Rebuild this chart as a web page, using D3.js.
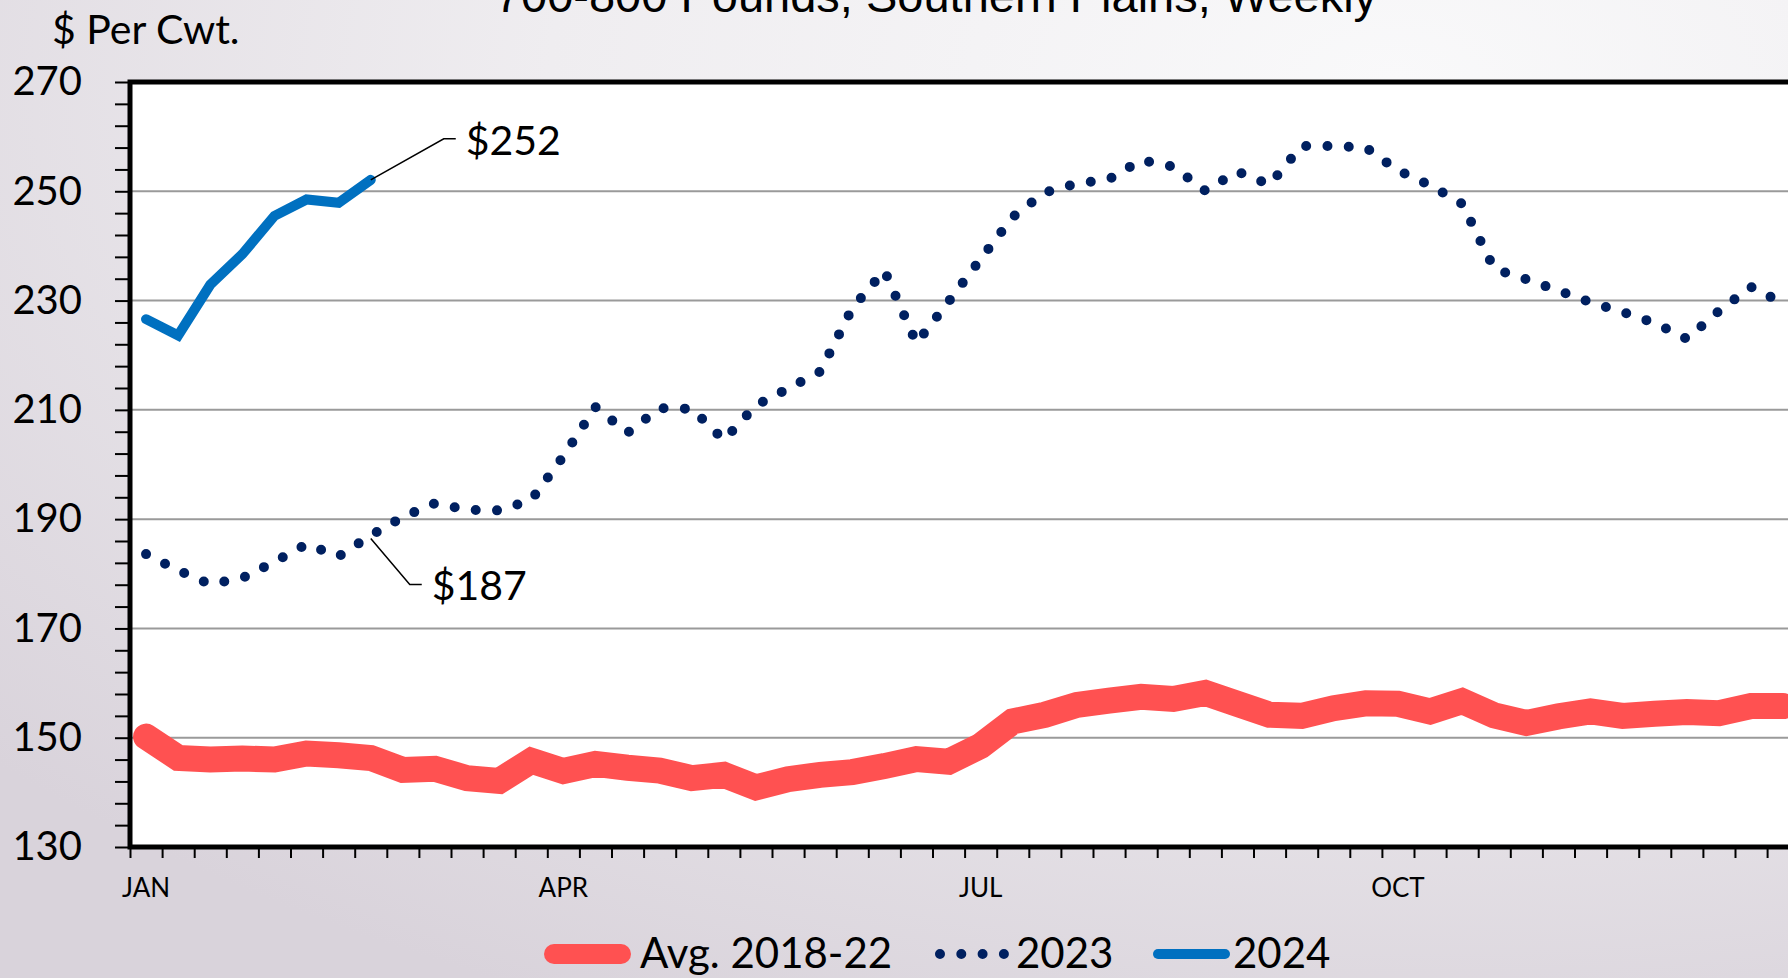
<!DOCTYPE html>
<html>
<head>
<meta charset="utf-8">
<script src="https://cdn.jsdelivr.net/npm/d3@7"></script>
<style>
  html, body { margin: 0; padding: 0; overflow: hidden; }
  svg { display: block; }
</style>
</head>
<body>
<script>
// weekly prices, $ per cwt
const weeks = d3.range(52);
const avg1822 = [150.2, 146.3, 146.0, 146.2, 146.0, 147.1, 146.8, 146.3, 144.1, 144.3,
  142.6, 142.1, 145.8, 143.9, 145.2, 144.5, 144.0, 142.6, 143.2, 140.9,
  142.4, 143.2, 143.7, 144.8, 146.1, 145.6, 148.5, 153.0, 154.2, 156.0,
  156.8, 157.5, 157.1, 158.2, 156.2, 154.2, 154.0, 155.4, 156.3, 156.2,
  154.8, 156.7, 154.1, 152.7, 153.9, 154.8, 154.0, 154.4, 154.7, 154.5,
  155.8, 155.8];
const y2023 = [183.6, 180.6, 178.1, 179.2, 182.2, 185.4, 183.2, 187.0, 190.4, 192.9,
  191.7, 191.6, 193.5, 201.5, 210.5, 205.8, 210.3, 210.2, 204.5, 210.8,
  213.9, 217.0, 228.6, 235.5, 222.2, 229.8, 237.6, 245.3, 249.8, 251.4,
  252.2, 255.7, 254.5, 250.1, 253.6, 251.2, 258.3, 258.3, 258.0, 253.8,
  251.1, 247.7, 235.8, 233.9, 231.8, 229.7, 227.9, 225.9, 223.0, 228.1,
  232.5, 229.5];
const y2024 = [226.6, 223.6, 232.9, 238.5, 245.5, 248.5, 247.9, 252.1];

const monthLabels = ["JAN", "APR", "JUL", "OCT"];
const monthWeeks = [0, 13, 26, 39];
const yMajor = [130, 150, 170, 190, 210, 230, 250, 270];
const gridValues = [150, 170, 190, 210, 230, 250];
const seriesNames = ["Avg. 2018-22", "2023", "2024"];

const width = 1788, height = 978;
const margin = { top: 82, left: 130, bottom: 131 };
const step = 32.1;
const plotRight = margin.left + step * weeks.length;
const plotBottom = height - margin.bottom;

const font = "Lato, 'Open Sans', sans-serif";

const svg = d3.select("body").append("svg")
  .attr("width", width)
  .attr("height", height);

// background
const defs = svg.append("defs");
const bg = defs.append("radialGradient")
  .attr("id", "bg")
  .attr("cx", "78%").attr("cy", "8%").attr("r", "105%");
bg.append("stop").attr("offset", "0%").attr("stop-color", "#f9f9fa");
bg.append("stop").attr("offset", "45%").attr("stop-color", "#efedf0");
bg.append("stop").attr("offset", "100%").attr("stop-color", "#d9d3db");

svg.append("rect")
  .attr("width", width)
  .attr("height", height)
  .attr("fill", "url(#bg)");

// scales
const x = d3.scaleBand()
  .domain(weeks)
  .range([margin.left, plotRight]);
const xEdge = d3.scaleLinear()
  .domain([0, weeks.length])
  .range([margin.left, plotRight]);
const y = d3.scaleLinear()
  .domain([130, 270])
  .range([plotBottom, margin.top]);
const cx = i => x(i) + x.bandwidth() / 2;

// plot area
svg.append("rect")
  .attr("x", margin.left)
  .attr("y", margin.top)
  .attr("width", plotRight - margin.left)
  .attr("height", plotBottom - margin.top)
  .attr("fill", "#ffffff");

// title (cut off at top, as in the source slide)
svg.append("text")
  .attr("x", 936)
  .attr("y", 12)
  .attr("text-anchor", "middle")
  .attr("font-family", "'Liberation Sans', Arial, sans-serif")
  .attr("font-size", 47)
  .attr("fill", "#000")
  .text("700-800 Pounds, Southern Plains, Weekly");

// gridlines
svg.append("g")
  .selectAll("line")
  .data(gridValues)
  .join("line")
    .attr("x1", margin.left)
    .attr("x2", plotRight)
    .attr("y1", d => y(d))
    .attr("y2", d => y(d))
    .attr("stroke", "#9a9a9a")
    .attr("stroke-width", 2);

// y axis ticks + labels
const yAxis = svg.append("g")
  .attr("transform", `translate(${margin.left},0)`)
  .call(d3.axisLeft(y)
    .tickValues(d3.range(130, 271, 4))
    .tickSize(15)
    .tickPadding(33)
    .tickFormat(d => yMajor.includes(d) ? d : ""));
yAxis.select(".domain").remove();
yAxis.selectAll(".tick line").attr("stroke", "#000").attr("stroke-width", 2);
yAxis.selectAll(".tick text")
  .attr("font-family", font)
  .attr("font-size", 40)
  .attr("fill", "#000");

svg.append("text")
  .attr("x", 52)
  .attr("y", 44)
  .attr("font-family", font)
  .attr("font-size", 41)
  .attr("fill", "#000")
  .text("$ Per Cwt.");

// x axis ticks
const xAxis = svg.append("g")
  .attr("transform", `translate(0,${plotBottom})`)
  .call(d3.axisBottom(xEdge)
    .tickValues(d3.range(0, weeks.length + 1))
    .tickSize(11)
    .tickFormat(""));
xAxis.select(".domain").remove();
xAxis.selectAll(".tick line").attr("stroke", "#000").attr("stroke-width", 2);

svg.append("g")
  .selectAll("text")
  .data(monthLabels)
  .join("text")
    .attr("x", (d, i) => cx(monthWeeks[i]))
    .attr("y", 897)
    .attr("text-anchor", "middle")
    .attr("font-family", font)
    .attr("font-size", 26)
    .attr("fill", "#000")
    .text(d => d);

// series
const line = d3.line()
  .x((d, i) => cx(i))
  .y(d => y(d));

svg.append("path")
  .datum(avg1822)
  .attr("d", line)
  .attr("fill", "none")
  .attr("stroke", "#ff5151")
  .attr("stroke-width", 26)
  .attr("stroke-linecap", "round")
  .attr("stroke-linejoin", "miter");

svg.append("path")
  .datum(y2023)
  .attr("d", line)
  .attr("fill", "none")
  .attr("stroke", "#002060")
  .attr("stroke-width", 10)
  .attr("stroke-dasharray", "0 21.3")
  .attr("stroke-linecap", "round");

svg.append("path")
  .datum(y2024)
  .attr("d", line)
  .attr("fill", "none")
  .attr("stroke", "#0070c0")
  .attr("stroke-width", 10)
  .attr("stroke-linecap", "round")
  .attr("stroke-linejoin", "miter");

// frame
svg.append("rect")
  .attr("x", margin.left)
  .attr("y", margin.top)
  .attr("width", plotRight - margin.left)
  .attr("height", plotBottom - margin.top)
  .attr("fill", "none")
  .attr("stroke", "#000")
  .attr("stroke-width", 5);

// callouts on the latest 2024 week
const lastWeek = y2024.length - 1;
const callouts = [
  { v: y2024[lastWeek], dy0: 0, dx: 73, dy: -41, ty: 16 },
  { v: y2023[lastWeek], dy0: 3, dx: 39, dy: 46, ty: 15 }
];
callouts.forEach(c => {
  const px = cx(lastWeek), py = y(c.v) + c.dy0;
  const ex = px + c.dx, ey = py + c.dy;
  svg.append("path")
    .attr("d", d3.line()([[px, py], [ex, ey], [ex + 12, ey]]))
    .attr("fill", "none")
    .attr("stroke", "#000")
    .attr("stroke-width", 1.5);
  svg.append("text")
    .attr("x", ex + 22)
    .attr("y", ey + c.ty)
    .attr("font-family", font)
    .attr("font-size", 41)
    .attr("fill", "#000")
    .text(`$${Math.round(c.v)}`);
});

// legend
const legendY = 954;
const legend = svg.append("g");
const legendItems = [
  { name: seriesNames[0], x0: 554, x1: 621, tx: 640, stroke: "#ff5151", w: 20, dash: null },
  { name: seriesNames[1], x0: 940, x1: 1004, tx: 1016, stroke: "#002060", w: 10, dash: "0 21.3" },
  { name: seriesNames[2], x0: 1158, x1: 1225, tx: 1233, stroke: "#0070c0", w: 10, dash: null }
];
legendItems.forEach(d => {
  legend.append("line")
    .attr("x1", d.x0).attr("x2", d.x1)
    .attr("y1", legendY).attr("y2", legendY)
    .attr("stroke", d.stroke)
    .attr("stroke-width", d.w)
    .attr("stroke-linecap", "round")
    .attr("stroke-dasharray", d.dash);
  legend.append("text")
    .attr("x", d.tx)
    .attr("y", 968)
    .attr("font-family", font)
    .attr("font-size", 42)
    .attr("fill", "#000")
    .text(d.name);
});
</script>
</body>
</html>
